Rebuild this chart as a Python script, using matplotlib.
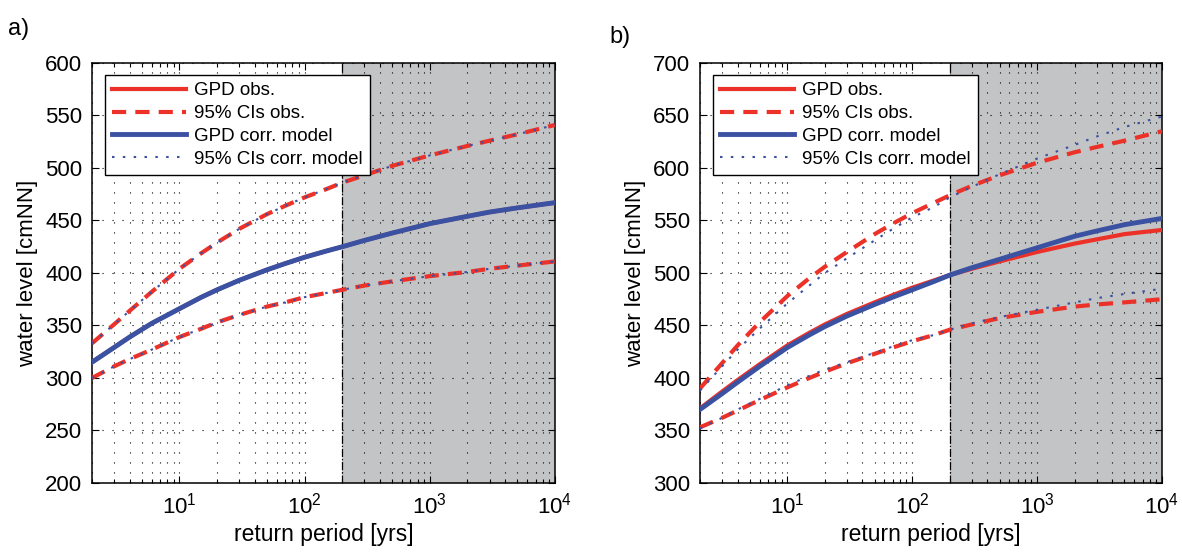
import matplotlib
matplotlib.use("Agg")
import matplotlib.pyplot as plt
from matplotlib.ticker import LogLocator, NullFormatter, MultipleLocator

plt.rcParams['font.family'] = ['Liberation Sans', 'DejaVu Sans']
plt.rcParams['mathtext.fontset'] = 'custom'
plt.rcParams['mathtext.rm'] = 'Liberation Sans'
plt.rcParams['mathtext.default'] = 'regular'

# return periods (years)
T = [2, 3, 4, 6, 10, 15, 20, 30, 50, 70, 100, 150, 200, 300, 500, 1000, 2000, 3000, 5000, 10000]

# a) water levels [cmNN]
a_gpd_obs = [315, 329, 339, 352, 366, 377, 384, 393, 403, 409, 415, 421, 425, 431, 438, 447, 454, 458, 462, 467]
a_ci_obs_up = [333, 351, 364, 382, 404, 419, 429, 442, 456, 464, 472, 480, 486, 493, 502, 512, 521, 526, 532, 541]
a_ci_obs_lo = [300, 311, 318, 327, 339, 347, 353, 360, 368, 372, 377, 381, 384, 388, 392, 397, 401, 404, 407, 411]
a_gpd_mod = [315, 329, 339, 352, 366, 377, 384, 393, 403, 409, 415, 421, 425, 431, 438, 447, 454, 458, 462, 467]
a_ci_mod_up = [333, 351, 364, 382, 404, 419, 429, 442, 456, 464, 472, 480, 486, 493, 502, 512, 521, 526, 532, 541]
a_ci_mod_lo = [300, 311, 318, 327, 339, 347, 353, 360, 368, 372, 377, 381, 384, 388, 392, 397, 401, 404, 407, 411]

# b) water levels [cmNN]
b_gpd_obs = [371, 387, 398, 413, 431, 443, 451, 461, 472, 479, 486, 493, 498, 504, 511, 520, 528, 532, 537, 541]
b_ci_obs_up = [390, 414, 431, 453, 478, 495, 506, 520, 537, 547, 557, 567, 574, 583, 593, 605, 615, 620, 626, 635]
b_ci_obs_lo = [353, 362, 369, 379, 391, 400, 406, 414, 423, 429, 435, 441, 446, 451, 457, 463, 468, 470, 472, 475]
b_gpd_mod = [370, 385, 396, 411, 429, 441, 449, 459, 470, 477, 484, 492, 498, 505, 513, 524, 535, 540, 546, 552]
b_ci_mod_up = [388, 411, 427, 447, 471, 488, 500, 514, 531, 542, 553, 563, 572, 582, 594, 609, 622, 630, 639, 649]
b_ci_mod_lo = [352, 362, 370, 380, 393, 402, 408, 415, 424, 430, 436, 441, 446, 452, 458, 465, 472, 476, 480, 485]

T_design = 200
RED = '#ec3128'
BLUE = '#3b52a3'
SHADE = '#c3c4c6'


def draw_panel(ax, obs, obs_up, obs_lo, mod, mod_up, mod_lo, ylim):
    ax.set_xscale('log')
    ax.axvspan(T_design, T[-1], color=SHADE, zorder=0, lw=0)
    ax.axvline(T_design, color='black', ls='-.', lw=0.9, zorder=1)

    ax.plot(T, obs, color=RED, lw=3.0, label='GPD obs.', zorder=3)
    ax.plot(T, obs_up, color=RED, lw=3.0, ls=(0, (3.4, 2.2)), label='95% CIs obs.', zorder=3)
    ax.plot(T, obs_lo, color=RED, lw=3.0, ls=(0, (3.4, 2.2)), zorder=3)
    ax.plot(T, mod, color=BLUE, lw=3.5, label='GPD corr. model', zorder=4)
    ax.plot(T, mod_up, color=BLUE, lw=1.5, ls=(0, (1.2, 4.0)), label='95% CIs corr. model', zorder=5)
    ax.plot(T, mod_lo, color=BLUE, lw=1.5, ls=(0, (1.2, 4.0)), zorder=5)

    ax.set_xlim(T[0], T[-1])
    ax.set_ylim(*ylim)
    ax.yaxis.set_major_locator(MultipleLocator(50))
    ax.xaxis.set_major_locator(LogLocator(base=10, numticks=10))
    ax.xaxis.set_minor_locator(LogLocator(base=10, subs=range(2, 10), numticks=10))
    ax.xaxis.set_minor_formatter(NullFormatter())

    ax.grid(True, which='major', axis='both', color='black', ls=(0, (1, 8)), lw=0.8, zorder=2)
    ax.grid(True, which='minor', axis='x', color='black', ls=(0, (1, 8)), lw=0.8, zorder=2)
    ax.set_axisbelow(False)

    ax.tick_params(which='both', direction='in', top=True, right=True, labelsize=16, width=0.8)
    ax.tick_params(which='major', length=5, pad=7)
    ax.tick_params(which='minor', length=3)
    for s in ax.spines.values():
        s.set_linewidth(1.1)

    ax.set_xlabel('return period [yrs]', fontsize=16.5, labelpad=3)
    ax.set_ylabel('water level [cmNN]', fontsize=16, labelpad=5)

    leg = ax.legend(loc='upper left', bbox_to_anchor=(0.028, 0.972), borderaxespad=0,
                    fontsize=13.5, handlelength=3.9, handletextpad=0.45, labelspacing=0.3,
                    borderpad=0.4, fancybox=False, framealpha=1, edgecolor='black')
    leg.get_frame().set_linewidth(1.0)
    leg.set_zorder(10)


fig = plt.figure(figsize=(11.82, 5.54), dpi=100)
ax_a = fig.add_axes([0.0778, 0.1282, 0.3917, 0.7581])
ax_b = fig.add_axes([0.5922, 0.1282, 0.3909, 0.7581])

draw_panel(ax_a, a_gpd_obs, a_ci_obs_up, a_ci_obs_lo,
           a_gpd_mod, a_ci_mod_up, a_ci_mod_lo, (200, 600))
draw_panel(ax_b, b_gpd_obs, b_ci_obs_up, b_ci_obs_lo,
           b_gpd_mod, b_ci_mod_up, b_ci_mod_lo, (300, 700))

fig.text(0.007, 0.948, 'a)', fontsize=17, va='center')
fig.text(0.516, 0.933, 'b)', fontsize=17, va='center')

fig.savefig('out.png', dpi=100)
